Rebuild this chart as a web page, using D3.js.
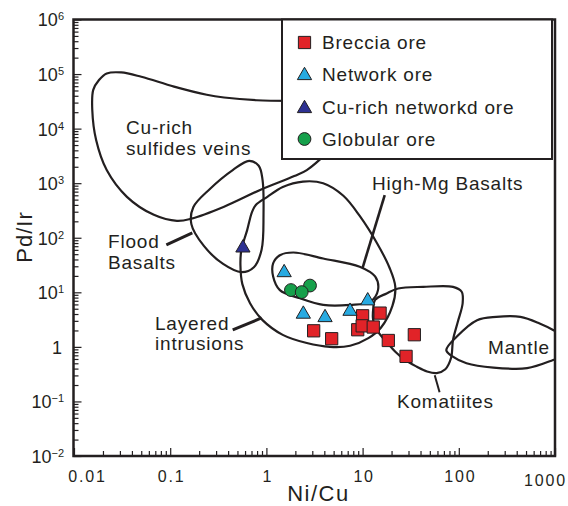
<!DOCTYPE html>
<html><head><meta charset="utf-8">
<script src="https://cdn.jsdelivr.net/npm/d3@7"></script>
<style>
html,body{margin:0;padding:0;background:#fff;}
svg{display:block;font-family:"Liberation Sans",Arial,Helvetica,sans-serif;}
</style></head><body>
<svg id="chart" width="568" height="506"></svg>
<script>
// ---------- data ----------
const xTickValues = [0.01, 0.1, 1, 10, 100, 1000];
const xTickLabels = ["0.01", "0.1", "1", "10", "100", "1000"];
const yTickExponents = [-2, -1, 0, 1, 2, 3, 4, 5, 6];

const brecciaNiCu = [8.9, 10.0, 9.9, 12.9, 15.2, 3.10, 4.77, 18.5, 34.5, 28.3];
const brecciaPdIr = [2.06, 3.71, 2.43, 2.31, 4.16, 1.97, 1.41, 1.31, 1.67, 0.67];
const networkNiCu = [1.53, 2.42, 4.07, 7.4, 11.3];
const networkPdIr = [24, 4.16, 3.6, 4.7, 7.3];
const cuRichNetworkNiCu = [0.57];
const cuRichNetworkPdIr = [68];
const globularNiCu = [1.80, 2.84, 2.33];
const globularPdIr = [11, 13.3, 10.1];

const legendLabels = ["Breccia ore", "Network ore", "Cu-rich networkd ore", "Globular ore"];

// field outlines, in [log10(Ni/Cu), log10(Pd/Ir)]
const cuRichVeinsField = [[0.64,3.57],[0.42,3.24],[0.29,3.13],[-0.06,2.88],[-0.44,2.57],[-0.78,2.35],[-0.93,2.31],[-1.17,2.42],[-1.45,2.75],[-1.66,3.24],[-1.77,3.79],[-1.81,4.34],[-1.80,4.71],[-1.74,4.89],[-1.66,5.01],[-1.51,5.03],[-1.30,4.95],[-0.96,4.77],[-0.62,4.62],[-0.44,4.57],[-0.10,4.52],[0.25,4.51]];
const floodBasaltsField = [[-0.18,3.41],[-0.08,3.32],[-0.04,3.06],[-0.03,2.42],[-0.05,1.78],[-0.13,1.46],[-0.26,1.37],[-0.45,1.52],[-0.65,1.85],[-0.78,2.25],[-0.76,2.56],[-0.59,2.89],[-0.35,3.24]];
const layeredIntrusionsField = [[-0.26,1.78],[-0.20,2.14],[-0.15,2.47],[-0.11,2.60],[0.01,2.75],[0.17,2.93],[0.38,3.03],[0.59,3.00],[0.80,2.77],[0.97,2.40],[1.15,1.90],[1.28,1.45],[1.34,1.10],[1.31,0.75],[1.19,0.35],[1.06,0.16],[0.87,0.02],[0.66,0.00],[0.42,0.07],[0.17,0.22],[-0.04,0.49],[-0.17,0.80],[-0.25,1.15],[-0.27,1.50]];
const highMgField = [[0.14,1.68],[0.28,1.73],[0.59,1.62],[0.97,1.47],[1.13,1.29],[1.16,1.04],[1.08,0.83],[0.87,0.77],[0.59,0.77],[0.35,0.89],[0.14,1.04],[0.07,1.29],[0.07,1.53]];
const komatiitesField = [[1.13,0.86],[1.25,0.98],[1.37,1.07],[1.63,1.10],[1.94,1.10],[2.03,1.01],[2.04,0.80],[1.99,0.46],[1.94,0.13],[1.92,-0.20],[1.86,-0.41],[1.77,-0.48],[1.67,-0.45],[1.56,-0.36],[1.44,-0.24],[1.34,-0.09],[1.25,0.09],[1.16,0.28],[1.11,0.49],[1.11,0.69]];
const mantleField = [[1.87,-0.06],[1.98,0.19],[2.19,0.49],[2.39,0.55],[2.64,0.55],[2.84,0.43],[2.98,0.31],[3.10,0.16],[3.10,-0.15],[2.98,-0.24],[2.71,-0.39],[2.36,-0.38],[2.08,-0.30],[1.93,-0.17]];

const floodLeader = [[-1.04,1.87],[-0.77,2.09]];
const layeredLeader = [[-0.35,0.31],[-0.05,0.53]];
const highMgLeader = [[1.00,1.45],[1.23,2.78]];
const komatiitesLeader = [[1.75,-0.52],[1.80,-0.83]];

// ---------- drawing ----------
const ink = "#231f20";
const colBreccia = "#e12328", colNetwork = "#27aae1", colCuNet = "#2e3192", colGlob = "#16a04b";
const svg = d3.select("#chart");
const L = 74, R = 555, T = 19.5, B = 456;
const x = d3.scaleLog().domain([0.01, 1000]).range([L, R]);
const y = d3.scaleLog().domain([0.01, 1e6]).range([B, T]);
const P = p => [x(Math.pow(10, p[0])), y(Math.pow(10, p[1]))];

svg.append("defs").append("clipPath").attr("id", "plotClip")
  .append("rect").attr("x", L).attr("y", T).attr("width", R - L).attr("height", B - T);

const fields = svg.append("g").attr("clip-path", "url(#plotClip)")
  .attr("fill", "none").attr("stroke", ink).attr("stroke-width", 2.2).attr("stroke-linejoin", "round");
const closed = d3.line().curve(d3.curveCatmullRomClosed.alpha(0.5));
const open = d3.line().curve(d3.curveCatmullRom.alpha(0.5));
fields.append("path").attr("d", open(cuRichVeinsField.map(P)));
[floodBasaltsField, layeredIntrusionsField, highMgField, komatiitesField, mantleField].forEach(f => {
  fields.append("path").attr("d", closed(f.map(P)));
});
const straight = d3.line();
fields.append("path").attr("d", straight(floodLeader.map(P))).attr("stroke-width", 3);
fields.append("path").attr("d", straight(layeredLeader.map(P))).attr("stroke-width", 3);
fields.append("path").attr("d", straight(highMgLeader.map(P))).attr("stroke-width", 2.6);
fields.append("path").attr("d", straight(komatiitesLeader.map(P))).attr("stroke-width", 2);

// field labels
const labels = [
  ["Cu-rich", 126, 133.5], ["sulfides veins", 126, 154.5],
  ["Flood", 108, 248], ["Basalts", 108, 268.5],
  ["Layered", 155, 329.5], ["intrusions", 155, 350],
  ["High-Mg Basalts", 372, 190], ["Komatiites", 397, 408], ["Mantle", 488, 354]
];
svg.append("g").selectAll("text").data(labels).join("text")
  .attr("x", d => d[1]).attr("y", d => d[2])
  .attr("font-size", 19).attr("letter-spacing", "0.8px").attr("fill", ink)
  .text(d => d[0]);

// axes
const minorX = [];
for (let e = -2; e < 3; e++) for (let m = 2; m <= 9; m++) minorX.push(m * Math.pow(10, e));
const minorY = [];
for (let e = -2; e < 6; e++) for (let m = 2; m <= 9; m++) minorY.push(m * Math.pow(10, e));

const gx = svg.append("g").attr("transform", `translate(0,${B})`);
gx.append("g").call(d3.axisBottom(x).tickValues(minorX).tickSize(-5).tickFormat(""));
const gxMaj = gx.append("g").call(d3.axisBottom(x).tickValues(xTickValues).tickSize(-8).tickPadding(15)
  .tickFormat((d, i) => xTickLabels[i]));
gx.selectAll(".domain").remove();
gx.selectAll(".tick line").attr("stroke", ink).attr("stroke-width", 1.2);
const lastX = xTickValues.length - 1;
gxMaj.selectAll(".tick text").attr("font-size", 16).attr("letter-spacing", "1.8px")
  .attr("font-family", "'Liberation Sans',Arial,sans-serif").attr("fill", ink)
  .attr("dx", (d, i) => i === 0 ? 13 : (i === lastX ? -10 : 1))
  .attr("dy", (d, i) => i === lastX ? "0.91em" : "0.71em");

const yTickValues = yTickExponents.map(e => Math.pow(10, e));
const gy = svg.append("g").attr("transform", `translate(${L - 0.5},0)`);
gy.append("g").call(d3.axisLeft(y).tickValues(minorY).tickSize(-5).tickFormat(""));
const gyMaj = gy.append("g").call(d3.axisLeft(y).tickValues(yTickValues).tickSize(-8).tickPadding(9.5).tickFormat(""));
gy.selectAll(".domain").remove();
gy.selectAll(".tick line").attr("stroke", ink).attr("stroke-width", 1.2);
gyMaj.selectAll(".tick text").each(function(d, i) {
  const t = d3.select(this).attr("font-size", 18).attr("font-family", "'Liberation Sans',Arial,sans-serif")
    .attr("fill", ink).attr("dy", "0.36em");
  const e = yTickExponents[i];
  if (e === 0) { t.attr("dx", -2).text("1"); return; }
  t.append("tspan").text("10");
  t.append("tspan").attr("font-size", 11).attr("dy", "-0.55em")
    .text(e < 0 ? "\u2212" + Math.abs(e) : String(e));
});

// frame
svg.append("rect").attr("x", L - 0.5).attr("y", T).attr("width", R - L + 0.5).attr("height", B - T)
  .attr("fill", "none").attr("stroke", ink).attr("stroke-width", 2.5);

// axis titles
svg.append("text").attr("x", (L + R) / 2 + 4).attr("y", 501).attr("text-anchor", "middle")
  .attr("font-size", 22).attr("letter-spacing", "1.5px").attr("fill", ink).text("Ni/Cu");
svg.append("text").attr("transform", "translate(32,237) rotate(-90)").attr("text-anchor", "middle")
  .attr("font-size", 22).attr("letter-spacing", "1px").attr("fill", ink).text("Pd/Ir");

// markers
const sq = d3.symbol().type(d3.symbolSquare).size(150);
const tri = d3.symbol().type(d3.symbolTriangle).size(88);
const marks = svg.append("g").attr("stroke", ink).attr("stroke-width", 1);
marks.selectAll(".br").data(brecciaNiCu).join("path").attr("class", "br")
  .attr("d", sq).attr("fill", colBreccia)
  .attr("transform", (d, i) => `translate(${x(d)},${y(brecciaPdIr[i])})`);
marks.selectAll(".nw").data(networkNiCu).join("path").attr("class", "nw")
  .attr("d", tri).attr("fill", colNetwork)
  .attr("transform", (d, i) => `translate(${x(d)},${y(networkPdIr[i]) + 1})`);
marks.selectAll(".cn").data(cuRichNetworkNiCu).join("path").attr("class", "cn")
  .attr("d", tri).attr("fill", colCuNet)
  .attr("transform", (d, i) => `translate(${x(d)},${y(cuRichNetworkPdIr[i]) + 1})`);
marks.selectAll(".gl").data(globularNiCu).join("circle").attr("class", "gl")
  .attr("r", 6.4).attr("fill", colGlob)
  .attr("cx", d => x(d)).attr("cy", (d, i) => y(globularPdIr[i]));

// legend
const lg = svg.append("g");
lg.append("rect").attr("x", 282).attr("y", 19.5).attr("width", 270).attr("height", 139.5)
  .attr("fill", "#fff").attr("stroke", ink).attr("stroke-width", 2);
const rowY = [42.5, 74.5, 107.5, 139];
const legendFills = [colBreccia, colNetwork, colCuNet, colGlob];
legendLabels.forEach((lab, i) => {
  const gi = lg.append("g").attr("transform", `translate(304.5,${rowY[i]})`);
  if (i === 0) gi.append("path").attr("d", sq);
  else if (i < 3) gi.append("path").attr("d", tri).attr("transform", "translate(0,1)");
  else gi.append("circle").attr("r", 6.4);
  gi.selectAll("path,circle").attr("fill", legendFills[i]).attr("stroke", ink).attr("stroke-width", 1);
  lg.append("text").attr("x", 322).attr("y", rowY[i] + 6.8).attr("font-size", 19)
    .attr("letter-spacing", "0.8px").attr("fill", ink).text(lab);
});
</script></body></html>
